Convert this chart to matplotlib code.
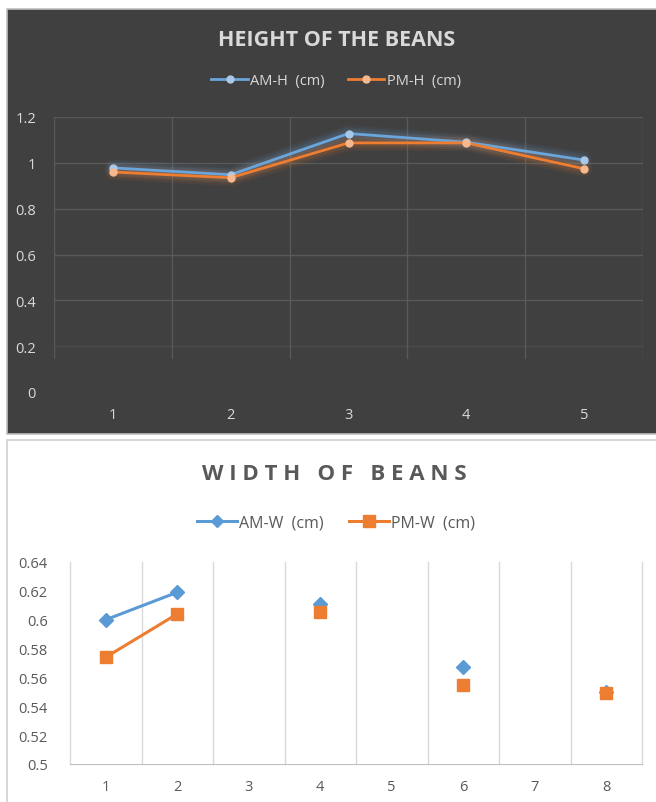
import matplotlib
matplotlib.use("Agg")
import matplotlib.pyplot as plt
import numpy as np
from matplotlib.patches import Rectangle
from matplotlib.lines import Line2D

# ---- data ----
height_days = [1, 2, 3, 4, 5]
am_h = [0.978, 0.948, 1.128, 1.090, 1.012]
pm_h = [0.960, 0.935, 1.087, 1.087, 0.974]
height_yticks = [0, 0.2, 0.4, 0.6, 0.8, 1, 1.2]
height_ylabels = ["0", "0.2", "0.4", "0.6", "0.8", "1", "1.2"]

width_days = [1, 2, 3, 4, 5, 6, 7, 8]
am_w = [0.600, 0.619, np.nan, 0.611, np.nan, 0.5675, np.nan, 0.550]
pm_w = [0.574, 0.604, np.nan, 0.6055, np.nan, 0.555, np.nan, 0.5495]
width_yticks = [0.5, 0.52, 0.54, 0.56, 0.58, 0.6, 0.62, 0.64]
width_ylabels = ["0.5", "0.52", "0.54", "0.56", "0.58", "0.6", "0.62", "0.64"]

W, H = 656, 803
BLUE = "#5B9BD5"
ORANGE = "#ED7D31"
FONT = ["Open Sans", "DejaVu Sans"]

fig = plt.figure(figsize=(W / 100, H / 100), dpi=100)
fig.patch.set_facecolor("white")

def fx(x):
    return x / W

def fy(y):
    return 1 - y / H

# panels
fig.patches.append(Rectangle((fx(7), fy(435)), fx(660 - 7), (435 - 10) / H,
                             transform=fig.transFigure, facecolor="#404040",
                             edgecolor="#bfbfbf", linewidth=1.2, zorder=-5))
fig.patches.append(Rectangle((fx(7), fy(806)), fx(660 - 7), (806 - 441) / H,
                             transform=fig.transFigure, facecolor="white",
                             edgecolor="#d0d0d0", linewidth=1.2, zorder=-5))

# ---------------- top chart ----------------
ax1 = fig.add_axes([fx(54), fy(393), fx(643 - 54), (393 - 118) / H])
ax1.set_zorder(2)
ax1.set_facecolor("none")
ax1.set_xlim(0.5, 5.5)
ax1.set_ylim(0, 1.2)
for s in ax1.spines.values():
    s.set_visible(False)
ax1.set_yticks(height_yticks)
ax1.set_yticklabels(height_ylabels)
ax1.set_xticks(height_days)
ax1.tick_params(length=0, colors="#d9d9d9", labelsize=10.5)
ax1.tick_params(axis="y", pad=13)
ax1.tick_params(axis="x", pad=11)
for lab in ax1.get_xticklabels() + ax1.get_yticklabels():
    lab.set_fontfamily(FONT)
# grid
for yv in height_yticks:
    if yv >= 0.4:
        ax1.axhline(yv, color="#595959", lw=1, zorder=1)
    elif yv >= 0.2:
        ax1.axhline(yv, color="#4c4c4c", lw=1, zorder=1)
for xv in np.arange(0.5, 5.6, 1.0):
    ax1.plot([xv, xv], [0.15, 1.2], color="#595959", lw=1, zorder=1)

# glow + lines
for vals, col, mcol in [(am_h, "#6aa5db", "#a9c8e8"), (pm_h, ORANGE, "#f6b98f")]:
    for lw, a in [(12, 0.06), (9, 0.08), (6, 0.12)]:
        ax1.plot(height_days, vals, color=col, lw=lw, alpha=a,
                 solid_capstyle="round", solid_joinstyle="round", zorder=2)
    ax1.plot(height_days, vals, color=col, lw=2.0, zorder=3,
             marker="o", markersize=5, markerfacecolor=mcol,
             markeredgecolor=mcol)

fig.text(fx(337), fy(40), "HEIGHT OF THE BEANS", ha="center", va="center",
         fontsize=15.5, fontweight="bold", color="#d9d9d9",
         family=FONT)

h1 = Line2D([], [], color="#6aa5db", lw=2.0, marker="o", markersize=5,
            markerfacecolor="#a9c8e8", markeredgecolor="#a9c8e8")
h2 = Line2D([], [], color=ORANGE, lw=2.0, marker="o", markersize=5,
            markerfacecolor="#f6b98f", markeredgecolor="#f6b98f")
leg1 = fig.legend([h1, h2], ["AM-H  (cm)", "PM-H  (cm)"], loc="center",
                  bbox_to_anchor=(fx(336), fy(82)), ncol=2, frameon=False,
                  handlelength=2.5, handletextpad=0.15, columnspacing=1.6,
                  prop={"family": FONT, "size": 10.5})
for t in leg1.get_texts():
    t.set_color("#d9d9d9")

# ---------------- bottom chart ----------------
ax2 = fig.add_axes([fx(70), fy(765), fx(642 - 70), (765 - 563) / H])
ax2.set_zorder(2)
ax2.set_facecolor("none")
ax2.set_xlim(0.5, 8.5)
ax2.set_ylim(0.5, 0.64)
for s in ["top", "right", "left"]:
    ax2.spines[s].set_visible(False)
ax2.spines["bottom"].set_color("#bfbfbf")
ax2.set_yticks(width_yticks)
ax2.set_yticklabels(width_ylabels)
ax2.set_xticks(width_days)
ax2.tick_params(length=0, colors="#595959", labelsize=10.5)
ax2.tick_params(axis="y", pad=16)
ax2.tick_params(axis="x", pad=11)
for lab in ax2.get_xticklabels() + ax2.get_yticklabels():
    lab.set_fontfamily(FONT)
for xv in np.arange(0.5, 8.6, 1.0):
    ax2.plot([xv, xv], [0.5, 0.64], color="#d9d9d9", lw=1, zorder=1,
             clip_on=False)

ax2.plot(width_days, am_w, color=BLUE, lw=2.2, marker="D", markersize=7,
         zorder=3, clip_on=False)
ax2.plot(width_days, pm_w, color=ORANGE, lw=2.2, marker="s", markersize=8.5,
         zorder=4, clip_on=False)

fig.text(fx(334), fy(475), "W I D T H   O F   B E A N S", ha="center",
         va="center", fontsize=16, fontweight="bold", color="#595959",
         family=FONT)

g1 = Line2D([], [], color=BLUE, lw=2.2, marker="D", markersize=6)
g2 = Line2D([], [], color=ORANGE, lw=2.2, marker="s", markersize=8)
leg2 = fig.legend([g1, g2], ["AM-W  (cm)", "PM-W  (cm)"], loc="center",
                  bbox_to_anchor=(fx(336), fy(524)), ncol=2, frameon=False,
                  handlelength=2.5, handletextpad=0.15, columnspacing=1.6,
                  prop={"family": FONT, "size": 11.5})
for t in leg2.get_texts():
    t.set_color("#595959")

fig.savefig("out.png", dpi=100, facecolor="white")
